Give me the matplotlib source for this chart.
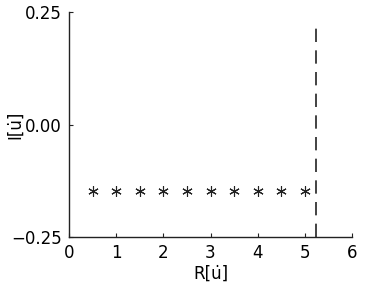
import matplotlib.pyplot as plt

# data
r_vals = [0.5, 1.0, 1.5, 2.0, 2.5, 3.0, 3.5, 4.0, 4.5, 5.0]
i_vals = [-0.148, -0.148, -0.148, -0.148, -0.148, -0.148, -0.148, -0.148, -0.148, -0.148]
r_limit = 5.23
x_ticks = [0, 1, 2, 3, 4, 5, 6]
y_ticks = [-0.25, 0.0, 0.25]
y_tick_labels = ['\u22120.25', '0.00', '0.25']

plt.rcParams['font.family'] = ['Liberation Sans Narrow', 'DejaVu Sans']

fig = plt.figure(figsize=(3.71, 3.02), dpi=100)
ax = fig.add_axes([69 / 371, 1 - 237 / 302, (352 - 69) / 371, (237 - 12) / 302])

ax.plot(r_vals, i_vals, linestyle='none', marker=(6, 2, 0), markersize=7.5,
        markeredgewidth=0.8, color='#222222')
ax.axvline(r_limit, ymax=(237 - 22) / 225, color='#222222', lw=1.2, dashes=(8, 5))

ax.set_xlim(0, 6)
ax.set_ylim(-0.25, 0.25)
ax.set_xticks(x_ticks)
ax.set_yticks(y_ticks)
ax.set_yticklabels(y_tick_labels)
ax.tick_params(direction='in', length=3, width=0.8, labelsize=12, pad=5, color='#222222')
for s in ['top', 'right']:
    ax.spines[s].set_visible(False)
for s in ['left', 'bottom']:
    ax.spines[s].set_linewidth(1.0)
    ax.spines[s].set_color('#222222')

ax.set_xlabel('R[u\u0307]', fontsize=12, labelpad=2)
ax.set_ylabel('I[u\u0307]', fontsize=12, va='center')
ax.yaxis.set_label_coords(-(69 - 15) / 283, 0.5)

fig.savefig('out.png', dpi=100)
